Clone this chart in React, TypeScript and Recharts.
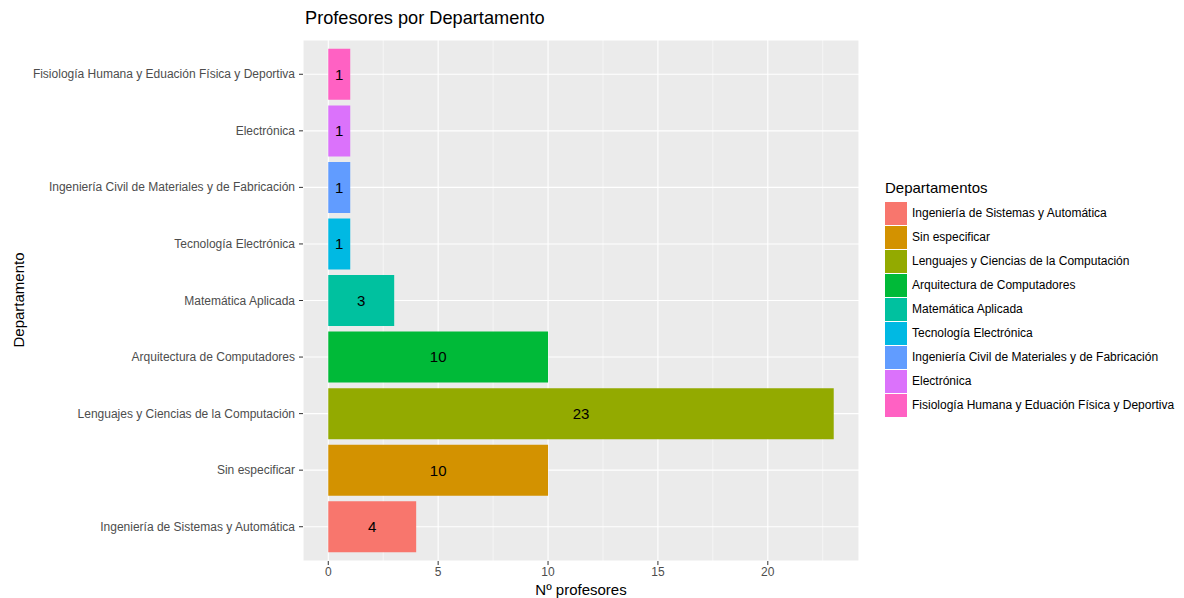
import { BarChart, Bar, XAxis, YAxis, CartesianGrid, LabelList, Cell } from 'recharts';

const departamentos = [
  'Ingeniería de Sistemas y Automática',
  'Sin especificar',
  'Lenguajes y Ciencias de la Computación',
  'Arquitectura de Computadores',
  'Matemática Aplicada',
  'Tecnología Electrónica',
  'Ingeniería Civil de Materiales y de Fabricación',
  'Electrónica',
  'Fisiología Humana y Eduación Física y Deportiva',
];
const profesores = [4, 10, 23, 10, 3, 1, 1, 1, 1];
const colores = ['#F8766D', '#D39200', '#93AA00', '#00BA38', '#00C19F', '#00B9E3', '#619CFF', '#DB72FB', '#FF61C3'];
const xTicks = [0, 5, 10, 15, 20];
const xMinor = [2.5, 7.5, 12.5, 17.5, 22.5];
const xDomain = [-1.15, 24.15];

const data = departamentos.map((d, i) => ({ departamento: d, profesores: profesores[i] }));

const FONT = '"Liberation Sans", Arial, Helvetica, sans-serif';

const minorLines = ({ offset }: any) =>
  xMinor.map((v) => offset.left + ((v - xDomain[0]) / (xDomain[1] - xDomain[0])) * offset.width);

const CategoryTick = ({ x, y, payload }: any) => (
  <text x={x - 2} y={y} dy={4} textAnchor="end" fill="#4D4D4D" fontSize={12} fontFamily={FONT}>
    {payload.value}
  </text>
);

export default function App() {
  return (
    <div style={{ position: 'absolute', left: 0, top: 0, width: 1184, height: 598, background: '#fff', fontFamily: FONT }}>
      <BarChart
        width={1184}
        height={598}
        data={data}
        layout="vertical"
        barCategoryGap="5%"
        margin={{ top: 40, right: 325, bottom: 7, left: 0 }}
      >
        <CartesianGrid fill="#EBEBEB" fillOpacity={1} stroke="#fff" strokeWidth={0.55} horizontal={false} verticalCoordinatesGenerator={minorLines} />
        <CartesianGrid stroke="#fff" strokeWidth={1.1} />
        <XAxis
          type="number"
          domain={xDomain}
          allowDataOverflow
          ticks={xTicks}
          height={30}
          axisLine={false}
          tickLine={{ stroke: '#333', strokeWidth: 1 }}
          tickSize={4}
          tick={{ fill: '#4D4D4D', fontSize: 12, fontFamily: FONT }}
        />
        <YAxis
          type="category"
          dataKey="departamento"
          reversed
          width={303}
          padding={{ top: 6, bottom: 6 }}
          axisLine={false}
          tickLine={{ stroke: '#333', strokeWidth: 1 }}
          tickSize={4}
          tick={<CategoryTick />}
          interval={0}
        />
        <Bar dataKey="profesores" isAnimationActive={false}>
          {data.map((d, i) => (
            <Cell key={d.departamento} fill={colores[i]} />
          ))}
          <LabelList dataKey="profesores" position="center" fill="#000" fontSize={15} fontFamily={FONT} />
        </Bar>
      </BarChart>

      <div style={{ position: 'absolute', left: 305, top: 8, fontSize: 18.2, color: '#000' }}>Profesores por Departamento</div>
      <div style={{ position: 'absolute', left: 481, width: 200, textAlign: 'center', top: 581, fontSize: 15, color: '#000' }}>
        Nº profesores
      </div>
      <div
        style={{
          position: 'absolute',
          left: 18,
          top: 300,
          fontSize: 15,
          color: '#000',
          transform: 'translate(-50%, -50%) rotate(-90deg)',
          whiteSpace: 'nowrap',
        }}
      >
        Departamento
      </div>

      <div style={{ position: 'absolute', left: 885, top: 179 }}>
        <div style={{ fontSize: 15, color: '#000', marginBottom: 5 }}>Departamentos</div>
        {departamentos.map((d, i) => (
          <div key={d} style={{ display: 'flex', alignItems: 'center', height: 24 }}>
            <div style={{ width: 22, height: 23, background: colores[i], marginRight: 5 }} />
            <span style={{ fontSize: 12, color: '#000', whiteSpace: 'nowrap' }}>{d}</span>
          </div>
        ))}
      </div>
    </div>
  );
}
